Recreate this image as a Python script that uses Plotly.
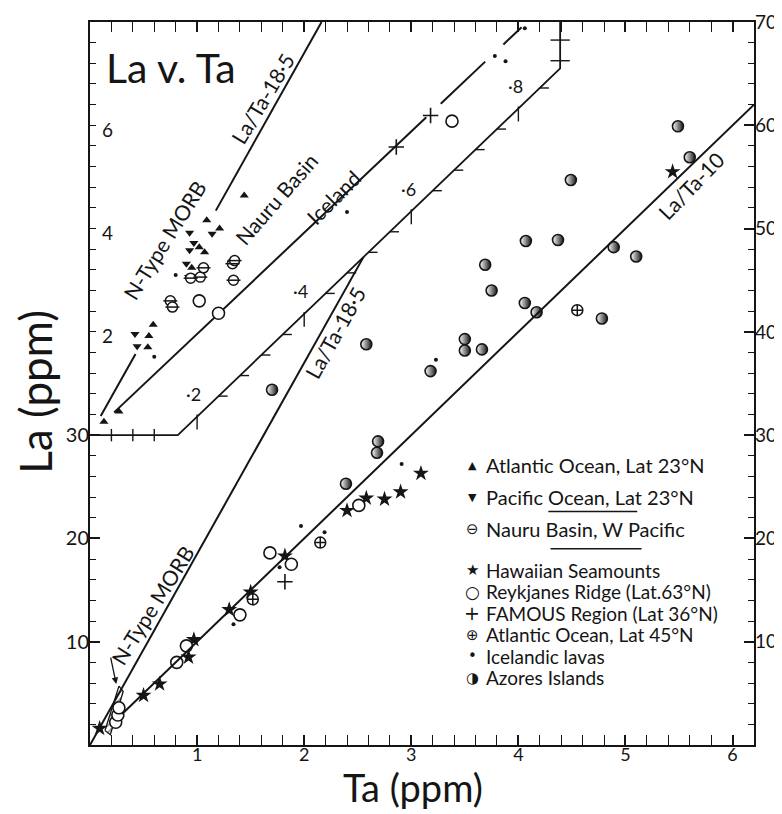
import numpy as np
import plotly.graph_objects as go

# ---------------- axes / tick data ----------------
X_MAX = 6.2
Y_MAX = 70
X_TICKS = [1, 2, 3, 4, 5, 6]
Y_LEFT_TICKS = [10, 20, 30]
Y_RIGHT_TICKS = [10, 20, 30, 40, 50, 60, 70]
INSET_LA_TICKS = [2, 4, 6]

# reference lines (La/Ta ratios)
RATIO_MORB = 18.5
RATIO_10 = 10.0
RATIO_ICELAND = 9.8

# ---------------- main field (Ta ppm, La ppm) ----------------
HAW_TA = [0.09, 0.50, 0.65, 0.92, 0.97, 1.30, 1.50, 1.82, 2.40, 2.58, 2.75, 2.90, 3.09, 5.44]
HAW_LA = [1.6, 4.8, 5.9, 8.5, 10.2, 13.1, 14.8, 18.3, 22.7, 23.9, 23.8, 24.5, 26.3, 55.5]

REYK_TA = [0.24, 0.26, 0.27, 0.81, 0.90, 1.40, 1.68, 1.88, 2.51]
REYK_LA = [2.2, 2.9, 3.6, 8.0, 9.6, 12.6, 18.6, 17.5, 23.2]

FAM_TA = [1.82]
FAM_LA = [15.8]

ATL45_TA = [1.52, 2.15, 4.55]
ATL45_LA = [14.1, 19.6, 42.1]

ICE_TA = [1.34, 1.77, 1.97, 2.19, 2.91, 3.23]
ICE_LA = [11.7, 17.2, 21.2, 20.6, 27.2, 37.3]

AZ_TA = [1.70, 2.39, 2.68, 2.69, 2.58, 3.18, 3.50, 3.50, 3.66, 3.69, 3.75, 4.06, 4.07,
         4.17, 4.37, 4.49, 4.78, 4.89, 5.10, 5.49, 5.60]
AZ_LA = [34.4, 25.3, 28.3, 29.4, 38.8, 36.2, 39.3, 38.2, 38.3, 46.5, 44.0, 42.8, 48.8,
         41.9, 48.9, 54.7, 41.3, 48.2, 47.3, 59.9, 56.9]

# N-type MORB field near the origin (outline, Ta / La ppm)
MORB_FIELD_TA = [0.14, 0.19, 0.31, 0.27, 0.14]
MORB_FIELD_LA = [1.4, 1.0, 5.2, 5.7, 1.4]

# ---------------- inset: low-Ta samples (Ta ppm, La ppm) ----------------
IN_ATL23_TA = [0.026, 0.054, 0.108, 0.110, 0.118, 0.190, 0.204, 0.214, 0.218, 0.242, 0.288]
IN_ATL23_LA = [0.26, 0.46, 1.70, 1.92, 2.14, 3.24, 3.64, 3.54, 4.16, 4.00, 4.64]

IN_PAC23_TA = [0.084, 0.088, 0.180, 0.184, 0.186, 0.186, 0.194, 0.228]
IN_PAC23_LA = [1.96, 1.72, 3.32, 3.06, 3.92, 3.58, 3.72, 3.90]

IN_NAURU_TA = [0.150, 0.154, 0.188, 0.206, 0.212, 0.266, 0.268, 0.270]
IN_NAURU_LA = [2.60, 2.48, 3.04, 3.06, 3.24, 3.32, 3.00, 3.38]

IN_REYK_TA = [0.204, 0.240, 0.676]
IN_REYK_LA = [2.60, 2.36, 6.08]

IN_FAM_TA = [0.572, 0.636]
IN_FAM_LA = [5.58, 6.19]

IN_ICE_TA = [0.120, 0.160, 0.480, 0.756, 0.776, 0.812]
IN_ICE_LA = [1.52, 3.10, 4.32, 7.34, 7.24, 7.88]

# inset trend-line pieces (Ta ranges, ppm)
IN_MORB_SEGS = [(0.020, 0.085), (0.235, 8 / 18.5)]
IN_ICE_SEGS = [(0.045, 0.628), (0.655, 0.738), (0.772, 0.806)]

# inset frame: inset La 0..8 shown over main La 30..70, inset Ta x5
INSET_LA0 = 30
INSET_FACTOR = 5
FRAME_TA = [0.0, 0.164, 0.878, 0.878]
FRAME_LA = [0.0, 0.0, 7.1, 8.0]
FRAME_MAJOR_TA = [0.2, 0.4, 0.6, 0.8]
FRAME_MAJOR_LBL = ["·2", "·4", "·6", "·8"]
FRAME_MINOR_TA = [0.24, 0.28, 0.32, 0.36, 0.44, 0.48, 0.52, 0.56, 0.64, 0.68, 0.72, 0.76, 0.84]
FRAME_BASE_TA = [0.04, 0.08, 0.12]
FRAME_VERT_LA = [7.25, 7.65]

LEGEND_TOP = [("▲", "Atlantic Ocean, Lat 23°N"),
              ("▼", "Pacific Ocean, Lat 23°N"),
              ("⊖", "Nauru Basin, W Pacific")]
LEGEND_BOTTOM = [("★", "Hawaiian Seamounts"),
                 ("○", "Reykjanes Ridge (Lat.63°N)"),
                 ("+", "FAMOUS Region (Lat 36°N)"),
                 ("⊕", "Atlantic Ocean, Lat 45°N"),
                 ("•", "Icelandic lavas"),
                 ("◑", "Azores Islands")]

FONT = "Lato, 'Open Sans', sans-serif"
SYM_FONT = "DejaVu Sans"
INK = "#151515"


def to_main(ta, la):
    ta = np.asarray(ta, dtype=float)
    la = np.asarray(la, dtype=float)
    return ta * INSET_FACTOR, INSET_LA0 + la * INSET_FACTOR


fig = go.Figure()


def line(x, y, width=2.0, yaxis="y"):
    fig.add_trace(go.Scatter(x=list(x), y=list(y), mode="lines", yaxis=yaxis,
                             line=dict(color=INK, width=width),
                             hoverinfo="skip", showlegend=False))


def markers(x, y, **mk):
    fig.add_trace(go.Scatter(x=list(x), y=list(y), mode="markers",
                             marker=mk, hoverinfo="skip", showlegend=False))


# ---- inset frame (diagonal axis) ----
fx, fy = to_main(FRAME_TA, FRAME_LA)
line(fx, fy, 1.8)


def frame_la(ta):
    return np.interp(ta, FRAME_TA[1:3], FRAME_LA[1:3])


tx, ty = [], []
for t in FRAME_MAJOR_TA:
    l = frame_la(t)
    x0, y0 = to_main([t, t], [l - 0.25, l + 0.04])
    tx += list(x0) + [None]
    ty += list(y0) + [None]
for t in FRAME_MINOR_TA:
    l = frame_la(t)
    x0, y0 = to_main([t, t + 0.017], [l, l])
    tx += list(x0) + [None]
    ty += list(y0) + [None]
for t in FRAME_BASE_TA:
    x0, y0 = to_main([t, t], [-0.12, 0.12])
    tx += list(x0) + [None]
    ty += list(y0) + [None]
for l in FRAME_VERT_LA:
    t = FRAME_TA[-1]
    x0, y0 = to_main([t - 0.018, t + 0.018], [l, l])
    tx += list(x0) + [None]
    ty += list(y0) + [None]
line(tx, ty, 1.4)

# ---- inset trend lines ----
for a, b in IN_MORB_SEGS:
    x, y = to_main([a, b], [a * RATIO_MORB, b * RATIO_MORB])
    line(x, y, 2.0)
for a, b in IN_ICE_SEGS:
    x, y = to_main([a, b], [a * RATIO_ICELAND, b * RATIO_ICELAND])
    line(x, y, 2.0)

# ---- main trend lines ----
# La/Ta = 18.5 through origin, stopping at the inset's diagonal axis
dx0, dy0 = to_main([FRAME_TA[1]], [FRAME_LA[1]])
dx1, dy1 = to_main([FRAME_TA[2]], [FRAME_LA[2]])
slope = (dy1[0] - dy0[0]) / (dx1[0] - dx0[0])
x_end = (dy0[0] - slope * dx0[0]) / (RATIO_MORB - slope)
line([0, x_end], [0, RATIO_MORB * x_end], 2.0)
# La/Ta = 10 (drawn on the right-hand axis, same scale)
line([0.3, X_MAX], [0.3 * RATIO_10, X_MAX * RATIO_10], 2.0, yaxis="y2")

# MORB field (hatched)
fig.add_trace(go.Scatter(x=MORB_FIELD_TA, y=MORB_FIELD_LA, mode="lines", fill="toself",
                         fillcolor="rgba(0,0,0,0)",
                         fillpattern=dict(shape="/", fgcolor=INK, size=5, solidity=0.3),
                         line=dict(color=INK, width=1.3), hoverinfo="skip", showlegend=False))

# ---- data points: main field ----
markers(ICE_TA, ICE_LA, symbol="circle", size=4, color=INK)
markers(HAW_TA, HAW_LA, symbol="star", size=12, color=INK, line=dict(width=0))
markers(REYK_TA, REYK_LA, symbol="circle", size=12, color="white", line=dict(color=INK, width=1.6))
markers(FAM_TA, FAM_LA, symbol="cross-thin-open", size=11, color=INK, line=dict(color=INK, width=1.6))
markers(ATL45_TA, ATL45_LA, symbol="circle-cross", size=11, color="white", line=dict(color=INK, width=1.5))
markers(AZ_TA, AZ_LA, symbol="circle", size=11, color="white",
        gradient=dict(type="horizontal", color=INK), line=dict(color=INK, width=1.6))

# ---- data points: inset ----
x, y = to_main(IN_ICE_TA, IN_ICE_LA)
markers(x, y, symbol="circle", size=4, color=INK)
x, y = to_main(IN_ATL23_TA, IN_ATL23_LA)
markers(x, y, symbol="triangle-up", size=8, color=INK, line=dict(width=0))
x, y = to_main(IN_PAC23_TA, IN_PAC23_LA)
markers(x, y, symbol="triangle-down", size=8, color=INK, line=dict(width=0))
x, y = to_main(IN_NAURU_TA, IN_NAURU_LA)
markers(x, y, symbol="circle", size=10, color="white", line=dict(color=INK, width=1.5))
markers(x, y, symbol="line-ew-open", size=10, color=INK, line=dict(color=INK, width=1.5))
x, y = to_main(IN_REYK_TA, IN_REYK_LA)
markers(x, y, symbol="circle", size=12, color="white", line=dict(color=INK, width=1.6))
x, y = to_main(IN_FAM_TA, IN_FAM_LA)
markers(x, y, symbol="cross-thin-open", size=11, color=INK, line=dict(color=INK, width=1.6))

# ---------------- annotations ----------------
ann = []


def text(x, y, s, size=21, angle=0, xref="x", yref="y", xanchor="center", family=FONT):
    ann.append(dict(x=x, y=y, xref=xref, yref=yref, text=s, showarrow=False,
                    textangle=angle, xanchor=xanchor, yanchor="middle",
                    font=dict(family=family, size=size, color=INK)))


text(0.76, 65.6, "La v. Ta", size=41)
text(1.61, 62.6, "La/Ta-18·5", angle=-59)
text(0.70, 48.9, "N-Type MORB", angle=-58)
text(1.74, 52.9, "Nauru Basin", angle=-49)
text(2.27, 53.0, "Iceland", angle=-45)
text(2.29, 39.9, "La/Ta-18·5", angle=-61)
text(5.61, 54.2, "La/Ta-10", angle=-46)
text(0.58, 13.5, "N-Type MORB", angle=-58)

for t, s in zip(FRAME_MAJOR_TA, FRAME_MAJOR_LBL):
    mx, my = to_main([t], [frame_la(t)])
    text(mx[0] - 0.03, my[0] + 2.2, s, size=18)

for v in INSET_LA_TICKS:
    _, my = to_main([0], [v])
    text(0.16, my[0] - 0.4, str(v), size=19)

# arrow to MORB field
ann.append(dict(x=0.245, y=5.9, ax=0.19, ay=8.6, xref="x", yref="y", axref="x", ayref="y",
                showarrow=True, arrowhead=2, arrowsize=1, arrowwidth=1.3, arrowcolor=INK, text=""))

# axis titles
text(-0.082, 0.488, "La (ppm)", size=44, angle=-90, xref="paper", yref="paper")
text(0.486, -0.058, "Ta (ppm)", size=38, xref="paper", yref="paper")

# legend (text)
sym_sizes = {"▲": 11, "▼": 11, "⊖": 15, "★": 15, "○": 17, "+": 19, "⊕": 15, "•": 15, "◑": 15}
for i, (sym, lab) in enumerate(LEGEND_TOP):
    yy = 27.1 - 3.1 * i
    text(3.57, yy, sym, size=sym_sizes[sym], family=SYM_FONT)
    text(3.68, yy, lab, size=20, xanchor="left")
for i, (sym, lab) in enumerate(LEGEND_BOTTOM):
    yy = 16.9 - 2.08 * i
    text(3.57, yy, sym, size=sym_sizes[sym], family=SYM_FONT)
    text(3.68, yy, lab, size=19, xanchor="left")

shapes = [
    dict(type="line", xref="x", yref="y", x0=4.28, x1=5.11, y0=22.6, y1=22.6,
         line=dict(color=INK, width=1.6)),
    dict(type="line", xref="x", yref="y", x0=4.30, x1=5.15, y0=19.0, y1=19.0,
         line=dict(color=INK, width=1.6)),
]

axis_common = dict(showgrid=False, zeroline=False, showline=True, linecolor=INK, linewidth=2,
                   ticks="inside", tickcolor=INK, tickwidth=1.5, ticklen=10, automargin=False)

# the page body keeps its default 8px margin, so the figure is sized to fit the window
fig.update_layout(
    width=774, height=806,
    margin=dict(l=82, r=28, t=14, b=69),
    paper_bgcolor="white", plot_bgcolor="white",
    showlegend=False,
    xaxis=dict(range=[0, X_MAX], tickvals=X_TICKS, mirror="allticks",
               tickfont=dict(family=FONT, size=18, color=INK), ticklabelstandoff=-8,
               minor=dict(ticks="inside", tick0=0, dtick=0.2, ticklen=6, tickwidth=1.3, tickcolor=INK),
               **axis_common),
    yaxis=dict(range=[0, Y_MAX], tickvals=Y_LEFT_TICKS, mirror=True,
               tickfont=dict(family=FONT, size=20, color=INK), ticklabelstandoff=-5,
               minor=dict(ticks="inside", tick0=0, dtick=2, ticklen=6, tickwidth=1.3, tickcolor=INK),
               **axis_common),
    yaxis2=dict(range=[0, Y_MAX], overlaying="y", side="right", tickvals=Y_RIGHT_TICKS,
                showgrid=False, zeroline=False, showline=False, automargin=False,
                ticks="inside", tickcolor=INK, tickwidth=1.5, ticklen=10,
                tickfont=dict(family=FONT, size=19, color=INK),
                minor=dict(ticks="inside", tick0=0, dtick=2, ticklen=6, tickwidth=1.3, tickcolor=INK)),
    annotations=ann,
    shapes=shapes,
)

fig.write_html("out.html")
